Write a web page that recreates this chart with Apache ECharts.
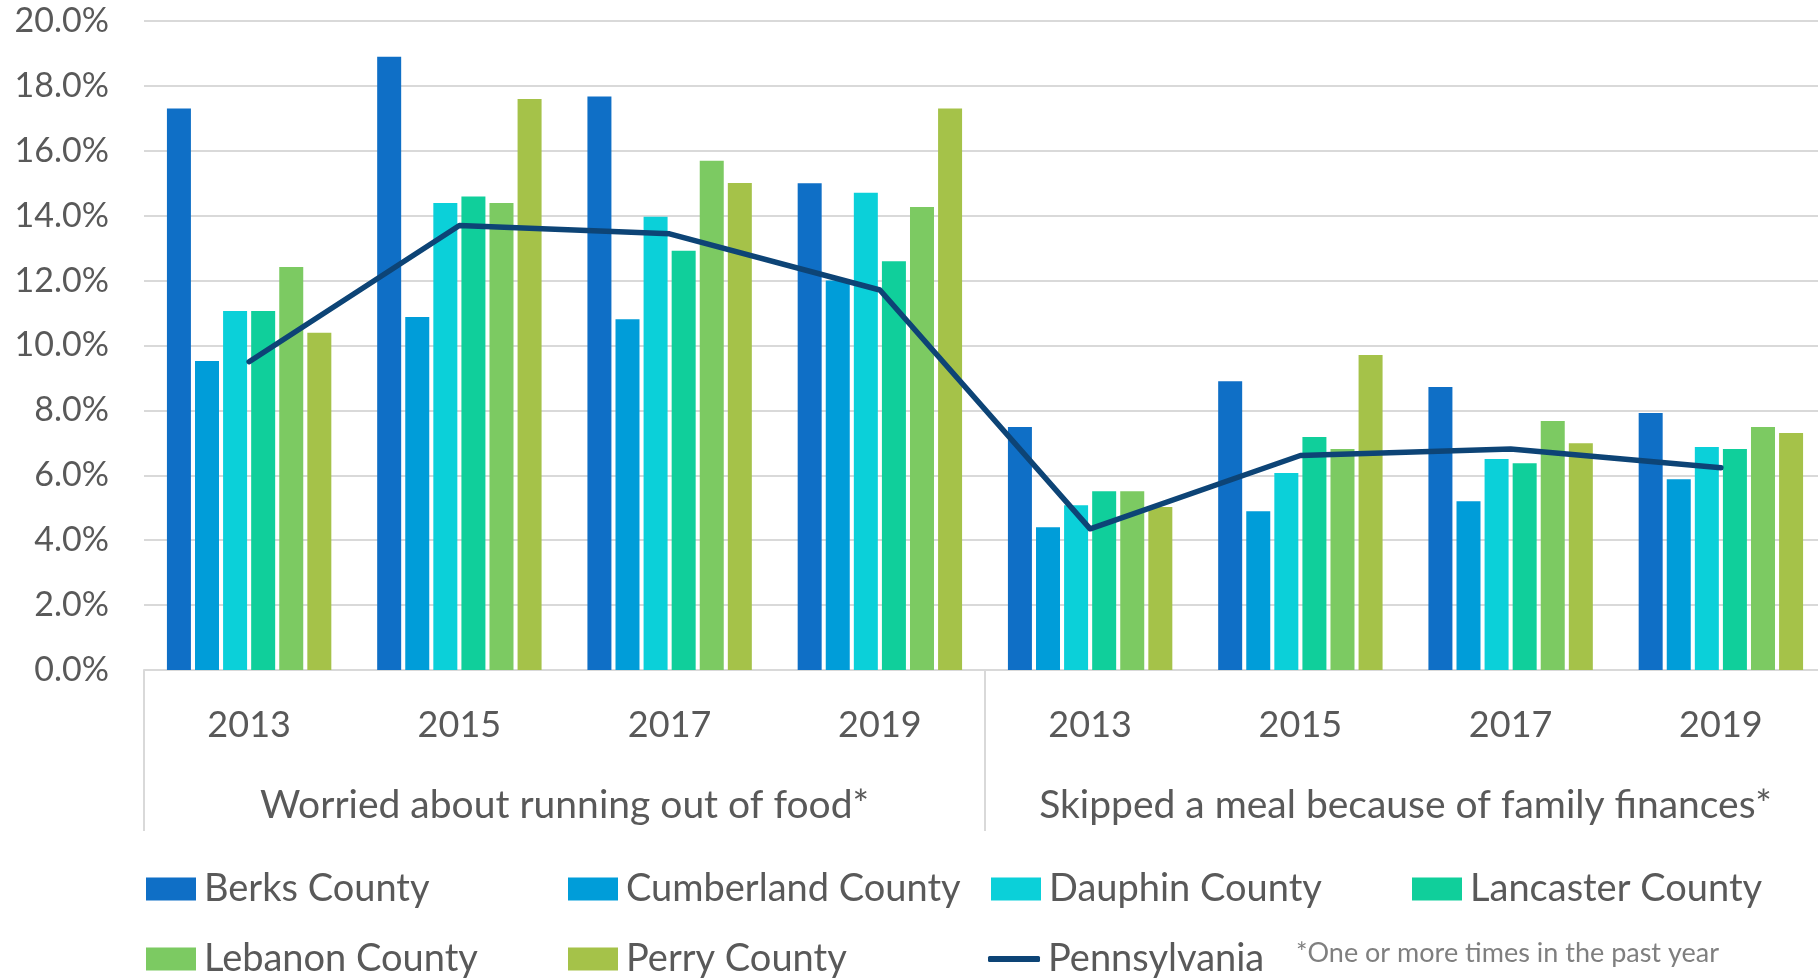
<!DOCTYPE html>
<html>
<head>
<meta charset="utf-8">
<title>Food insecurity</title>
<script src="https://cdn.jsdelivr.net/npm/echarts@6/dist/echarts.min.js"></script>
<style>
  html, body { margin: 0; padding: 0; background: #fff; }
  #chart { width: 1818px; height: 978px; }
</style>
</head>
<body>
<div id="chart"></div>
<script>
// categories
var years = ["2013", "2015", "2017", "2019", "2013", "2015", "2017", "2019"];
var groups = ["Worried about running out of food*", "Skipped a meal because of family finances*"];
var yTicks = [0, 2, 4, 6, 8, 10, 12, 14, 16, 18, 20];

// values, %
var berks = [17.3, 18.9, 17.67, 15.0, 7.49, 8.9, 8.72, 7.92];
var cumberland = [9.52, 10.88, 10.81, 12.0, 4.4, 4.89, 5.2, 5.88];
var dauphin = [11.06, 14.39, 13.97, 14.71, 5.08, 6.07, 6.5, 6.87];
var lancaster = [11.06, 14.59, 12.92, 12.6, 5.51, 7.18, 6.37, 6.81];
var lebanon = [12.42, 14.39, 15.69, 14.27, 5.51, 6.81, 7.67, 7.49];
var perry = [10.39, 17.6, 15.01, 17.3, 5.02, 9.71, 6.99, 7.3];
var pennsylvania = [9.5, 13.7, 13.44, 11.71, 4.35, 6.61, 6.81, 6.23];

var chart = echarts.init(document.getElementById("chart"));

var font = "Lato";
var txt = "#595959";
var line = "#d9d9d9";

//柱子
function bar(name, data, color) {
  return {
    type: "bar",
    name: name,
    data: data,
    barWidth: 24,
    barGap: "17%",
    itemStyle: { color: color }
  };
}

//图例, one per item so columns sit where they do in the original
function leg(name, left, top, extra) {
  var l = {
    data: [{ name: name, icon: "rect" }],
    left: left,
    top: top,
    padding: 0,
    itemWidth: 50,
    itemHeight: 23,
    itemStyle: { borderWidth: 0 },
    textStyle: { fontFamily: font, fontSize: 38, color: txt, lineHeight: 40, padding: [0, 0, 0, 3] }
  };
  return Object.assign(l, extra || {});
}

var option = {
  animation: false,
  grid: { left: 144, top: 21, width: 1682, height: 649, outerBoundsMode: "none" },
  legend: [
    leg("Berks County", 146, 869),
    leg("Cumberland County", 568, 869),
    leg("Dauphin County", 991, 869),
    leg("Lancaster County", 1412, 869),
    leg("Lebanon County", 146, 939),
    leg("Perry County", 568, 939),
    leg("Pennsylvania", 988, 939, {
      data: [{ name: "Pennsylvania", icon: "roundRect" }],
      itemWidth: 52,
      itemHeight: 6
    })
  ],
  xAxis: [
    {
      type: "category",
      data: years,
      position: "bottom",
      axisLine: { show: true, lineStyle: { color: line, width: 2 } },
      axisTick: { show: false },
      axisLabel: { fontFamily: font, fontSize: 36, color: txt, margin: 37 }
    },
    {
      type: "category",
      data: groups,
      position: "bottom",
      axisLine: { show: false },
      axisTick: { show: true, interval: 0, length: 161, lineStyle: { color: line, width: 2 } },
      axisLabel: { fontFamily: font, fontSize: 39, color: txt, margin: 116, interval: 0 }
    }
  ],
  yAxis: {
    type: "value",
    min: yTicks[0],
    max: yTicks[yTicks.length - 1],
    interval: 2,
    axisLine: { show: false },
    axisTick: { show: false },
    splitLine: { lineStyle: { color: line, width: 2 } },
    axisLabel: {
      fontFamily: font,
      fontSize: 34,
      color: txt,
      margin: 35,
      formatter: function (v) { return v.toFixed(1) + "%"; }
    }
  },
  graphic: [
    {
      type: "text",
      left: 1296,
      top: 940,
      style: { text: "*One or more times in the past year", font: "27px Lato", fill: "#7f7f7f" }
    }
  ],
  series: [
    bar("Berks County", berks, "#0F6FC6"),
    bar("Cumberland County", cumberland, "#009DD9"),
    bar("Dauphin County", dauphin, "#0BD0D9"),
    bar("Lancaster County", lancaster, "#10CF9B"),
    bar("Lebanon County", lebanon, "#7CCA62"),
    bar("Perry County", perry, "#A5C249"),
    {
      type: "line",
      name: "Pennsylvania",
      data: pennsylvania,
      symbol: "none",
      itemStyle: { color: "#0D4476" },
      lineStyle: { color: "#0D4476", width: 5.5, cap: "round", join: "round" }
    }
  ]
};
chart.setOption(option);
</script>
</body>
</html>
